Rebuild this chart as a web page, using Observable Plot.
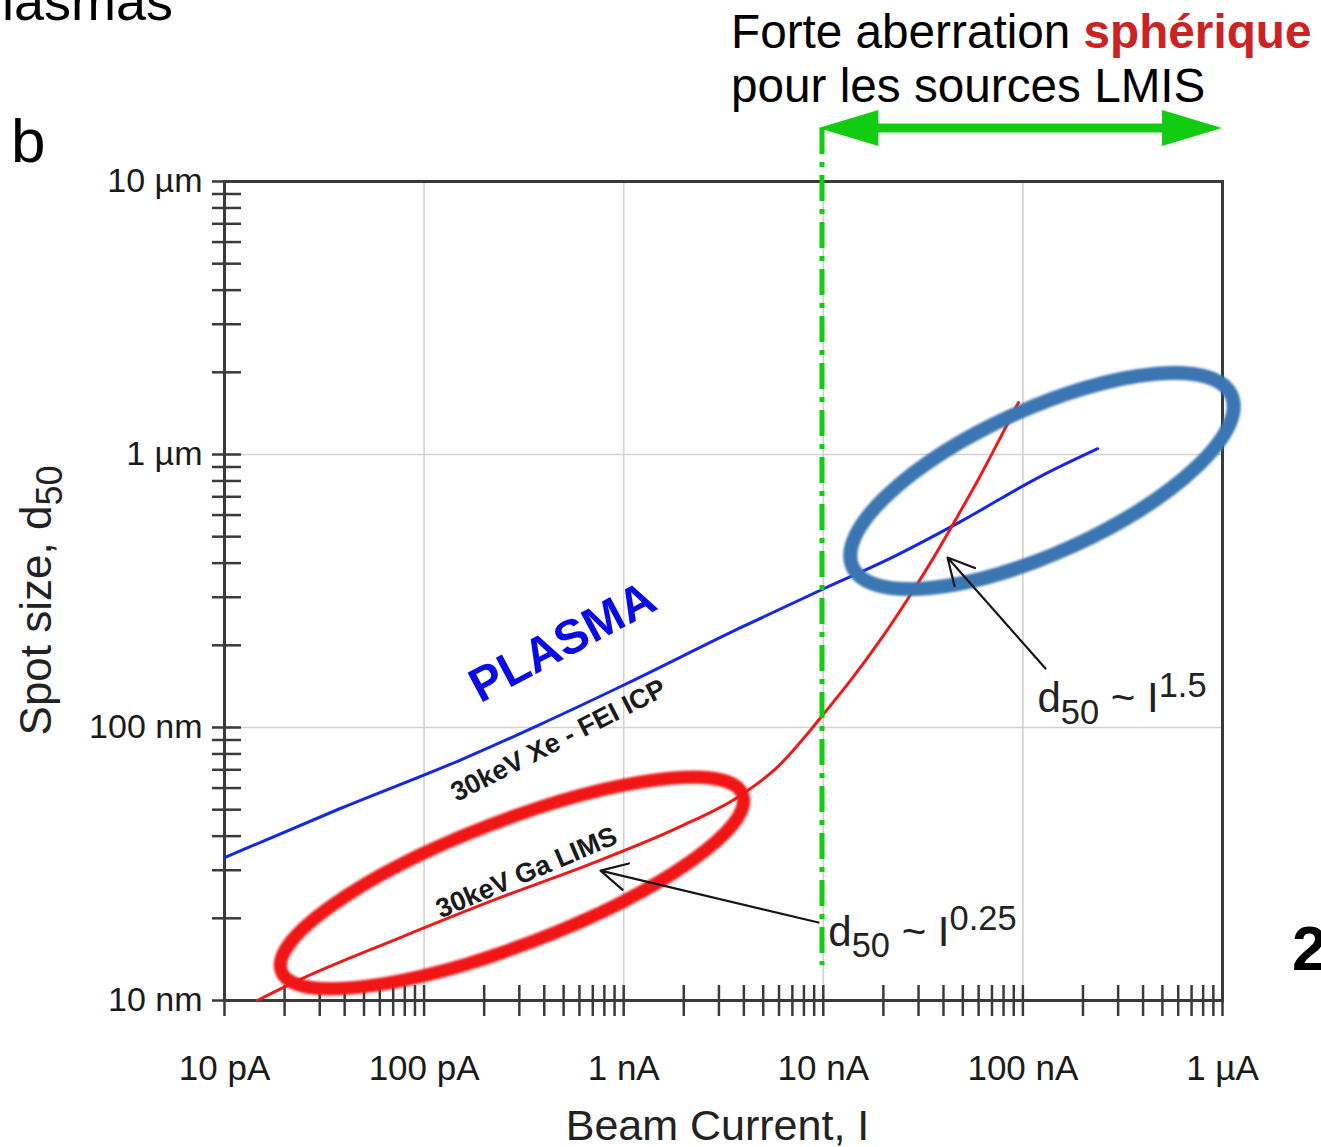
<!DOCTYPE html>
<html><head><meta charset="utf-8">
<script src="https://cdn.jsdelivr.net/npm/d3@7"></script>
<script src="https://cdn.jsdelivr.net/npm/@observablehq/plot@0.6"></script>
<style>
html,body{margin:0;padding:0;background:#fff;overflow:hidden;}
#wrap{position:relative;width:1321px;height:1147px;overflow:hidden;font-family:"Liberation Sans",Arial,sans-serif;background:#fff;}
#wrap svg{position:absolute;left:0;top:0;}
.ov{position:absolute;white-space:nowrap;color:#000;}
</style></head><body>
<div id="wrap">
  <div class="ov" style="left:-34px;top:-26px;font-size:54px;line-height:54px;">Plasmas</div>
  <div class="ov" style="left:731px;top:5px;font-size:47.7px;line-height:54px;">Forte aberration <b style="color:#cc2222">sphérique</b><br>pour les sources LMIS</div>
  <div class="ov" style="left:11px;top:110px;font-size:62px;line-height:62px;">b</div>
  <div class="ov" style="left:1292px;top:917px;font-size:63px;line-height:63px;font-weight:bold;">2</div>
</div>
<script>
// ---------- data (beam current in nA, spot size in nm) ----------
const xeCurrent = [0.01, 0.038, 0.15, 0.38, 1.02, 3.85, 10.1, 21, 48.7, 122, 237];
const xeSpot    = [33.4, 50.5, 75.7, 102.5, 144, 232, 323, 412, 568, 830, 1050];

const gaCurrent = [0.0146, 0.022, 0.076, 0.24, 0.71, 1.93, 3.85, 5.8, 8.6, 9.9, 13.7, 20, 27.4, 35.7, 47, 61.3, 77.2, 95];
const gaSpot    = [10, 11.6, 17, 23.8, 32, 43.4, 56.4, 70.8, 97.5, 110.7, 148.7, 217, 307, 419, 593, 838, 1154, 1550];

const xTickValues = [0.01, 0.1, 1, 10, 100, 1000];
const xTickLabels = ["10 pA", "100 pA", "1 nA", "10 nA", "100 nA", "1 µA"];
const yTickValues = [10, 100, 1000, 10000];
const yTickLabels = ["10 nm", "100 nm", "1 µm", "10 µm"];

// annotation labels (data coordinates)
const curveLabels = [
  {text: "PLASMA", I: 0.494, d: 205, rotate: -28, size: 48, color: "#0a0ae6"},
  {text: "30keV Xe - FEI ICP", I: 0.471, d: 89.6, rotate: -27, size: 27, color: "#1a1a1a"},
  {text: "30keV Ga LIMS", I: 0.326, d: 29.4, rotate: -23, size: 27, color: "#1a1a1a"}
];
const lawLabels = [
  {text: "d_{50} ~ I^{1.5}", I: 118.3, d: 113.5},
  {text: "d_{50} ~ I^{0.25}", I: 10.6, d: 15.9}
];
const pointers = [
  {I1: 129.8, d1: 164.5, I2: 41.9, d2: 419.5},
  {I1: 9.46, d1: 19.3, I2: 0.765, d2: 29.9}
];
const ellipses = [
  {I: 0.2773, d: 26.83, rx: 247, ry: 62, angle: -21, color: "#f01414", width: 13},
  {I: 125.4, d: 796, rx: 208, ry: 72, angle: -24.4, color: "#3b76b2", width: 14}
];
const limitCurrent = 9.85;                 // 10 nA limit line
const limitSpan = [15630, 13.4];           // vertical extent of that line (nm)
const arrowSpan = [9.5, 1000];             // green double arrow, nA
const arrowLevel = 15630;                  // nm (above the frame)

// ---------- build ----------
const FONT = '"Liberation Sans", Arial, Helvetica, sans-serif';
const axisColor = "#3a3a3a";
const xe = xeCurrent.map((I, i) => ({I, d: xeSpot[i]}));
const ga = gaCurrent.map((I, i) => ({I, d: gaSpot[i]}));
const xLabelOf = new Map(xTickValues.map((v, i) => [v, xTickLabels[i]]));
const yLabelOf = new Map(yTickValues.map((v, i) => [v, yTickLabels[i]]));

const plot = Plot.plot({
  width: 1321, height: 1147,
  marginLeft: 224, marginRight: 99, marginTop: 181, marginBottom: 147,
  x: {type: "log", domain: [0.01, 1000]},
  y: {type: "log", domain: [10, 10000]},
  style: {fontFamily: FONT, color: "#1a1a1a", background: "transparent", overflow: "visible"},
  marks: [
    Plot.gridX(xTickValues, {stroke: "#d2d2d2", strokeOpacity: 1, strokeWidth: 1.6}),
    Plot.gridY(yTickValues, {stroke: "#d2d2d2", strokeOpacity: 1, strokeWidth: 1.6}),
    Plot.axisX({ticks: 30, tickSize: 31, dy: -15, fill: "none", stroke: axisColor, strokeWidth: 2.5}),
    Plot.axisX(xTickValues, {tickSize: 0, tickPadding: 55, tickFormat: d => xLabelOf.get(d), fontSize: 35, fill: "#1a1a1a", label: null}),
    Plot.axisY({ticks: 30, tickSize: 29, dx: 17, fill: "none", stroke: axisColor, strokeWidth: 2.5}),
    Plot.axisY(yTickValues, {tickSize: 0, tickPadding: 22, tickFormat: d => yLabelOf.get(d), fontSize: 34, fill: "#1a1a1a", label: null}),
    Plot.frame({stroke: axisColor, strokeWidth: 3}),
    Plot.line(xe, {x: "I", y: "d", stroke: "#1428e6", strokeWidth: 3, curve: "monotone-x"}),
    Plot.line(ga, {x: "I", y: "d", stroke: "#ee1a1a", strokeWidth: 3, curve: "monotone-x"}),
    ...curveLabels.map(l => Plot.text([l], {x: "I", y: "d", text: "text", rotate: l.rotate, fontSize: l.size,
      fontWeight: "bold", fill: l.color, textAnchor: "middle", lineAnchor: "middle"})),
    Plot.text(lawLabels, {x: "I", y: "d", text: "text", fontSize: 42, fill: "#222", textAnchor: "start", lineAnchor: "bottom"}),
    Plot.arrow(pointers, {x1: "I1", y1: "d1", x2: "I2", y2: "d2", stroke: "#151515", strokeWidth: 2.2, headLength: 20, headAngle: 55}),
    Plot.ruleX([limitCurrent], {y1: limitSpan[0], y2: limitSpan[1], stroke: "#11cc11", strokeWidth: 5, strokeDasharray: "26,8,5,8"}),
    Plot.text(["Beam Current, I"], {x: [2.95], frameAnchor: "bottom", dy: 139, text: d => d, fontSize: 43, fill: "#222", lineAnchor: "bottom", textAnchor: "middle"}),
    Plot.text(["Spot size, d_{50}"], {y: [292], frameAnchor: "left", dx: -174, text: d => d, rotate: -90, fontSize: 44, fill: "#222", lineAnchor: "bottom", textAnchor: "middle"})
  ]
});

const wrap = document.getElementById("wrap");
wrap.prepend(plot);

const sx = plot.scale("x"), sy = plot.scale("y");
const NS = "http://www.w3.org/2000/svg";
const svg = d3.select(plot);

// soft edge filter for hand-drawn ellipses
const defs = svg.append("defs");
defs.append("filter").attr("id", "soft").attr("x", "-10%").attr("y", "-30%").attr("width", "120%").attr("height", "160%")
  .append("feGaussianBlur").attr("stdDeviation", 0.9);

// ellipses, inserted below the pointer arrows
const arrowG = plot.querySelector('g[aria-label="arrow"]');
const eg = document.createElementNS(NS, "g");
plot.insertBefore(eg, arrowG);
ellipses.forEach(e => {
  const cx = sx.apply(e.I), cy = sy.apply(e.d);
  d3.select(eg).append("ellipse")
    .attr("cx", cx).attr("cy", cy).attr("rx", e.rx).attr("ry", e.ry)
    .attr("transform", `rotate(${e.angle} ${cx} ${cy})`)
    .attr("fill", "none").attr("stroke", e.color).attr("stroke-width", e.width)
    .attr("filter", "url(#soft)");
});

// green double-headed arrow
{
  const xa = sx.apply(arrowSpan[0]), xb = sx.apply(arrowSpan[1]), y = sy.apply(arrowLevel);
  const hl = 60, hw = 18, bw = 4.5;
  const pts = [[xa, y], [xa + hl, y - hw], [xa + hl, y - bw], [xb - hl, y - bw], [xb - hl, y - hw], [xb, y],
               [xb - hl, y + hw], [xb - hl, y + bw], [xa + hl, y + bw], [xa + hl, y + hw]];
  svg.append("polygon").attr("points", pts.map(p => p.join(",")).join(" ")).attr("fill", "#11cc11");
}

// rich text: _{sub} and ^{sup}
plot.querySelectorAll("text").forEach(t => {
  const s = t.textContent;
  if (!/[_^]\{/.test(s)) return;
  const fs = parseFloat(getComputedStyle(t).fontSize);
  const subFs = fs * 0.82, down = fs * 0.27, up = fs * 0.38;
  const parts = s.split(/(_\{[^}]*\}|\^\{[^}]*\})/).filter(p => p.length);
  t.textContent = "";
  t.style.whiteSpace = "pre";
  let off = 0;
  parts.forEach(p => {
    const ts = document.createElementNS(NS, "tspan");
    let target = 0, txt = p;
    if (p.startsWith("_{")) { target = down; txt = p.slice(2, -1); ts.setAttribute("font-size", subFs); }
    else if (p.startsWith("^{")) { target = -up; txt = p.slice(2, -1); ts.setAttribute("font-size", subFs); }
    ts.setAttribute("dy", target - off);
    off = target;
    ts.textContent = txt;
    t.appendChild(ts);
  });
});
</script>
</body></html>
